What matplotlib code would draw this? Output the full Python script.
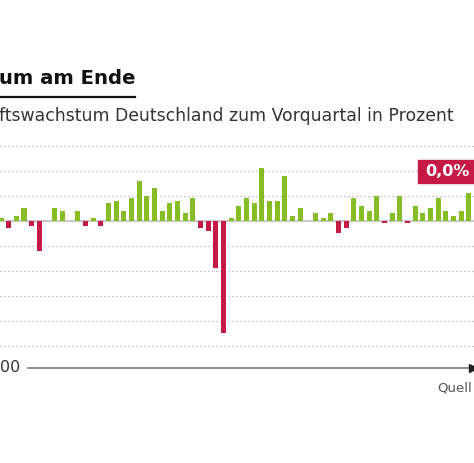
import numpy as np
import matplotlib
matplotlib.use("Agg")
import matplotlib.pyplot as plt
from matplotlib.patches import Rectangle

plt.rcParams['font.family'] = ['DejaVu Sans']

# Quarterly GDP growth vs. previous quarter (%)
growth = [0.1, -0.3, 0.2, 0.5, -0.2, -1.2, 0.0, 0.5, 0.4, 0.0, 0.4, -0.2, 0.1, -0.2, 0.7, 0.8,
          0.4, 0.9, 1.6, 1.0, 1.3, 0.4, 0.7, 0.8, 0.3, 0.9, -0.3, -0.4, -1.9, -4.5, 0.1,
          0.6, 0.9, 0.7, 2.1, 0.8, 0.8, 1.8, 0.2, 0.5, 0.0, 0.3, 0.1, 0.3, -0.5, -0.3,
          0.9, 0.6, 0.4, 1.0, -0.1, 0.3, 1.0, -0.1, 0.6, 0.3, 0.5, 0.9, 0.4, 0.2, 0.4, 1.1, 0.6]
grid_levels = [3, 2, 1, -1, -2, -3, -4, -5]
last_label = '0,0%'

GREEN = '#86bc25'
RED = '#c41a45'

W, H = 474, 463
fig = plt.figure(figsize=(W / 100, H / 100), dpi=100)
ax = fig.add_axes([0, 0, 1, 1])

# map: bar i centre at px 1 + 7.67*i, value 0 at px 220.7 from top, 25 px per %
step = 7.67
x0 = -1 / step
ax.set_xlim(x0, x0 + W / step)
zero_px, per = 220.7, 25.0
ax.set_ylim(-(H - zero_px) / per, zero_px / per)
ax.axis('off')

for g in grid_levels:
    ax.axhline(g, color='#959595', lw=0.9, ls=(0, (0.8, 2.4)), zorder=1)
ax.axhline(0, color='#c9c9c9', lw=1.6, zorder=1)

vals = np.array(growth)
xs = np.arange(len(vals))
cols = [GREEN if v > 0 else RED for v in vals]
ax.bar(xs, vals, width=0.66, color=cols, zorder=2)

# time arrow at the bottom
axis_v = (zero_px - 368) / per
x_start = x0 + 28 / step
ax.plot([x_start, x0 + W / step], [axis_v, axis_v], color='#6e6e6e', lw=1.1, zorder=2)
ax.plot([x0 + 473 / step], [axis_v], marker='>', color='#222222', ms=6, zorder=3, clip_on=False)

# texts (pixel positions converted to figure fractions)
def fx(px):
    return px / W

def fy(py):
    return 1 - py / H

fig.text(fx(-1), fy(79), 'um am Ende', fontsize=14.1, fontweight='bold',
         color='#111111', ha='left', va='center')
fig.add_artist(plt.Line2D([0, fx(135)], [fy(97), fy(97)], color='#111111', lw=1.6))
fig.text(fx(-1), fy(116), 'ftswachstum Deutschland zum Vorquartal in Prozent',
         fontsize=12.4, color='#333333', ha='left', va='center')

fig.text(fx(0), fy(368), '00', fontsize=11.5, color='#333333', ha='left', va='center')
fig.text(fx(472), fy(388), 'Quell', fontsize=9.5, color='#555555', ha='right', va='center')

# red value box on the right
fig.add_artist(Rectangle((fx(418), fy(183)), fx(70), 23 / H, transform=fig.transFigure,
                         color=RED, zorder=4))
fig.text(fx(425), fy(171.5), last_label, fontsize=11.5, fontweight='bold',
         color='white', ha='left', va='center', zorder=5)

fig.savefig('out.png', dpi=100)
